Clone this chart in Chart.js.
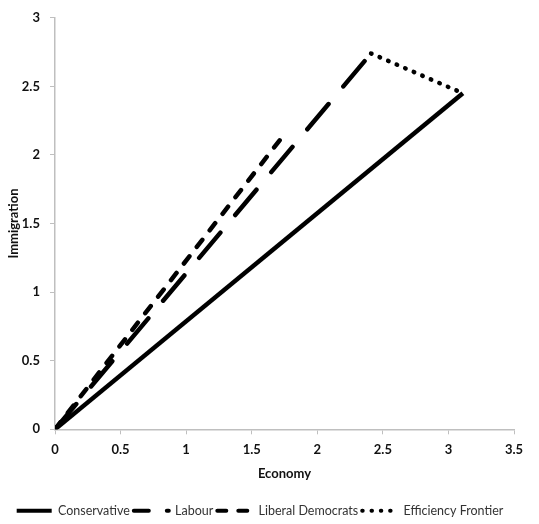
<!DOCTYPE html>
<html>
<head>
<meta charset="utf-8">
<script src="https://cdn.jsdelivr.net/npm/chart.js@4/dist/chart.umd.min.js"></script>
<style>
  html, body { margin: 0; padding: 0; background: #fff; }
  #wrap { width: 539px; height: 524px; }
</style>
</head>
<body>
<div id="wrap"><canvas id="Mychart"></canvas></div>
<script>
// values
const conservativeX = [0, 3.11];
const conservativeY = [0, 2.45];
const labourX = [0, 2.41];
const labourY = [0, 2.74];
const libdemX = [0, 1.74];
const libdemY = [0, 2.14];
const frontierX = [2.41, 3.11];
const frontierY = [2.74, 2.45];

const seriesNames = ["Conservative", "Labour", "Liberal Democrats", "Efficiency Frontier"];

function pts(xs, ys) {
  return xs.map((x, i) => ({x: x, y: ys[i]}));
}

const axisGray = '#bfbfbf';
const tickFont = {family: 'Lato', size: 13, weight: 'bold'};
// the legend sample for Labour is shorter than the line pattern
const legendDash = [null, [15, 18], null, null];

const canvas = document.getElementById("Mychart");
var chart = new Chart(canvas, {
  type: 'scatter',
  data: {
    datasets: [{
      label: seriesNames[0],
      data: pts(conservativeX, conservativeY),
      borderColor: '#000', backgroundColor: '#000',
      borderWidth: 4.5, borderCapStyle: 'butt',
      showLine: true, pointRadius: 0
    }, {
      label: seriesNames[1],
      data: pts(labourX, labourY),
      borderColor: '#000', backgroundColor: '#000',
      borderWidth: 4.5, borderCapStyle: 'round', borderDash: [33, 23],
      showLine: true, pointRadius: 0
    }, {
      label: seriesNames[2],
      data: pts(libdemX, libdemY),
      borderColor: '#000', backgroundColor: '#000',
      borderWidth: 4.5, borderCapStyle: 'round', borderDash: [9, 12],
      showLine: true, pointRadius: 0
    }, {
      label: seriesNames[3],
      data: pts(frontierX, frontierY),
      borderColor: '#000', backgroundColor: '#000',
      borderWidth: 4.5, borderCapStyle: 'round', borderDash: [0.5, 8.8],
      showLine: true, pointRadius: 0
    }]
  },
  options: {
    responsive: true,
    maintainAspectRatio: false,
    animation: false,
    layout: {padding: {left: 6, right: 25, top: 2, bottom: -3}},
    plugins: {
      tooltip: {enabled: false},
      legend: {
        position: 'bottom',
        labels: {
          usePointStyle: true,
          pointStyle: 'line',
          pointStyleWidth: 35,
          padding: 4,
          color: '#333',
          font: {family: 'Lato', size: 12.5},
          generateLabels: (c) => c.data.datasets.map((ds, i) => ({
            text: ds.label,
            fillStyle: '#000',
            strokeStyle: '#000',
            lineWidth: 4,
            lineDash: legendDash[i] || ds.borderDash || [],
            lineCap: ds.borderCapStyle,
            pointStyle: 'line',
            fontColor: '#333',
            hidden: false,
            datasetIndex: i
          }))
        }
      }
    },
    scales: {
      x: {
        type: 'linear', min: 0, max: 3.5,
        border: {color: axisGray, width: 1.5},
        grid: {display: true, drawOnChartArea: false, drawTicks: true, tickLength: 5, color: axisGray},
        ticks: {stepSize: 0.5, color: '#111', font: tickFont, padding: 8, maxRotation: 0,
                callback: (v) => v.toString()},
        title: {display: true, text: 'Economy', color: '#111', font: tickFont, padding: {top: 0, bottom: 19}}
      },
      y: {
        type: 'linear', min: 0, max: 3,
        border: {color: axisGray, width: 1.5},
        grid: {display: true, drawOnChartArea: false, drawTicks: true, tickLength: 5, color: axisGray},
        ticks: {stepSize: 0.5, color: '#111', font: tickFont, padding: 10,
                callback: (v) => v.toString()},
        title: {display: true, text: 'Immigration', color: '#111', font: tickFont, padding: {top: 0, bottom: 4}},
        afterFit: (scale) => { scale.width = 49; }
      }
    }
  }
});
</script>
</body>
</html>
